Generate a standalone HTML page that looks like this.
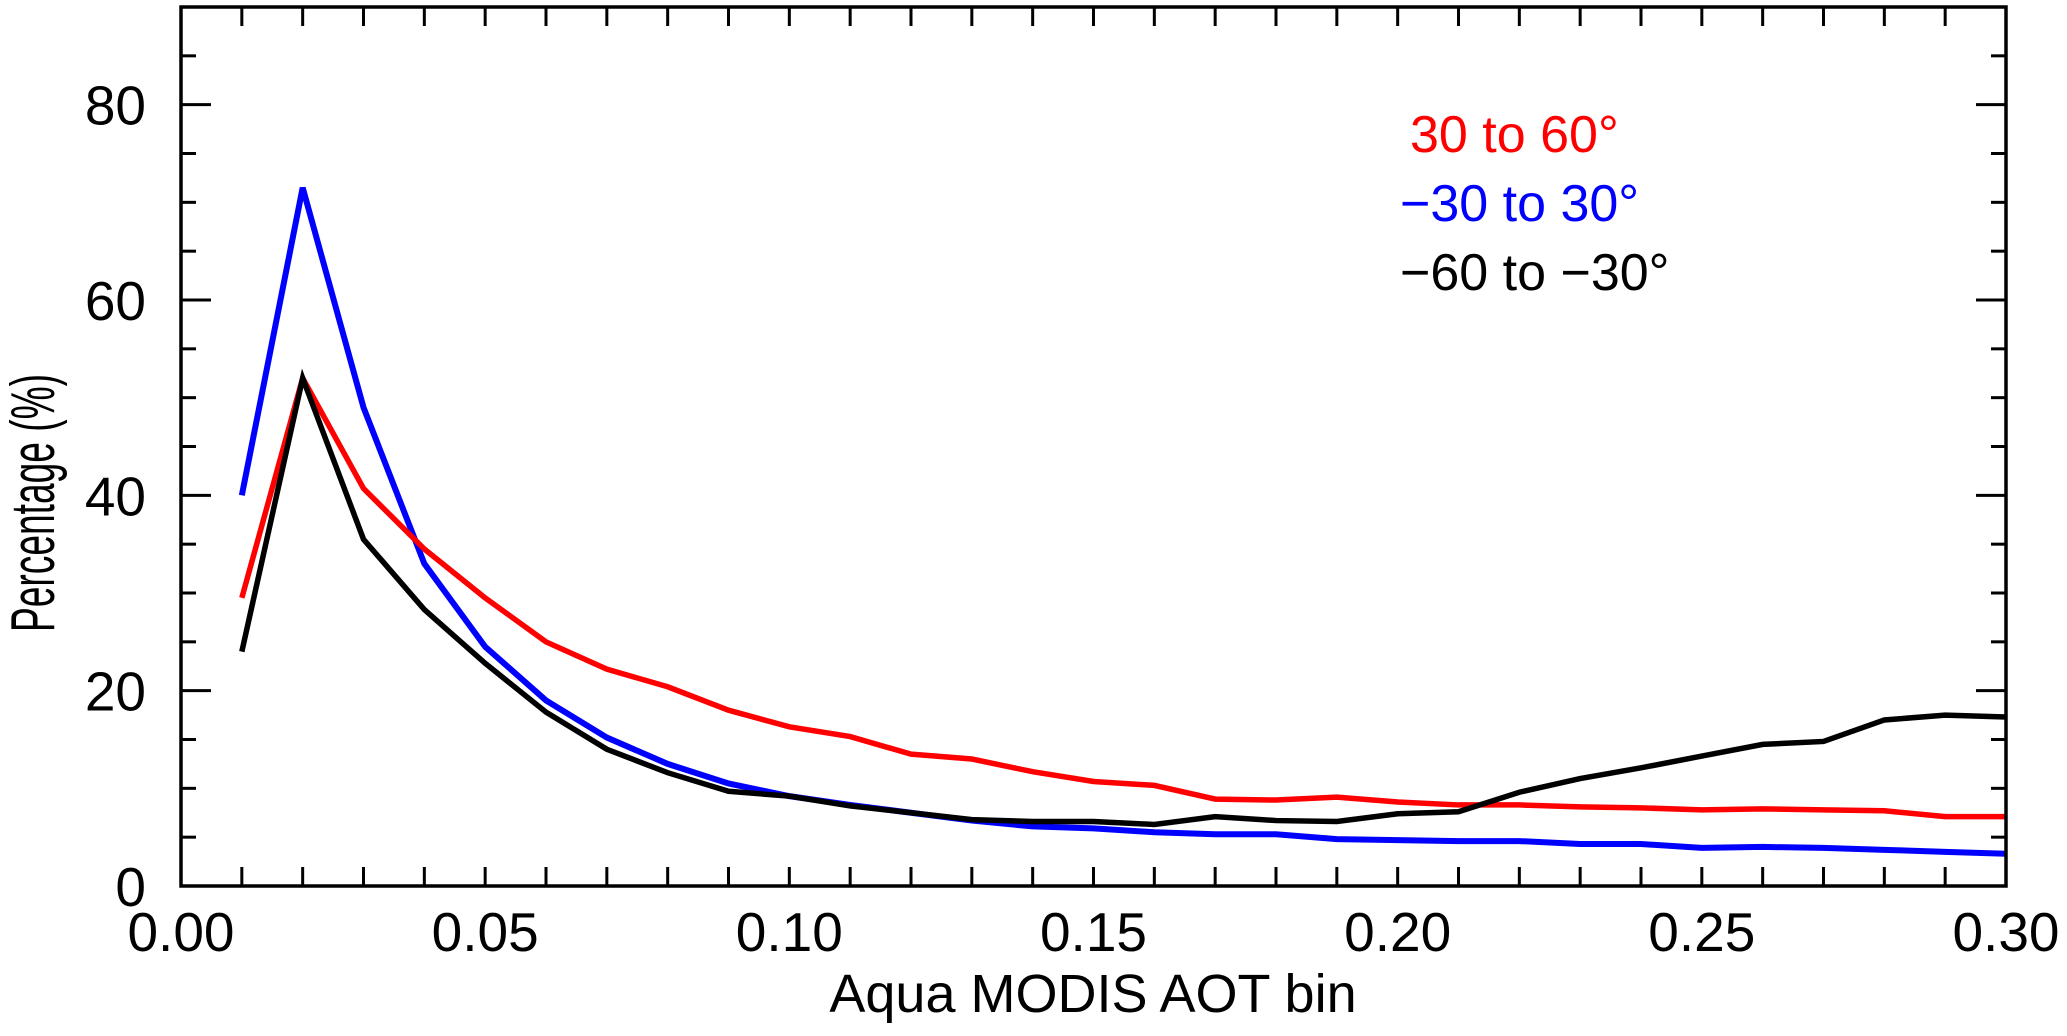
<!DOCTYPE html>
<html><head><meta charset="utf-8">
<style>
html,body{margin:0;padding:0;background:#fff;}
svg{display:block;font-family:"Liberation Sans",Arial,sans-serif;}
</style></head>
<body>
<svg id="chart" width="2067" height="1036" viewBox="0 0 2067 1036" xmlns="http://www.w3.org/2000/svg">
<g id="ticks"></g>
<g id="series"></g>
<rect x="181" y="7" width="1825" height="879" fill="none" stroke="#000" stroke-width="3.5"/>
<g id="labels" font-size="55" fill="#000"></g>
<text x="1093" y="1012" font-size="54" text-anchor="middle">Aqua MODIS AOT bin</text>
<text x="0" y="0" font-size="62" text-anchor="middle" textLength="258" lengthAdjust="spacingAndGlyphs" transform="translate(54,503) rotate(-90)">Percentage (%)</text>
<text x="1410" y="152" font-size="52" fill="#ff0000">30 to 60°</text>
<text x="1400" y="221" font-size="52" fill="#0000ff">−30 to 30°</text>
<text x="1400" y="290" font-size="52" fill="#000">−60 to −30°</text>
</svg>
<script>
const xBins = [0.01,0.02,0.03,0.04,0.05,0.06,0.07,0.08,0.09,0.10,0.11,0.12,0.13,0.14,0.15,0.16,0.17,0.18,0.19,0.20,0.21,0.22,0.23,0.24,0.25,0.26,0.27,0.28,0.29,0.30];
const redValues = [29.5,52,40.7,34.5,29.5,25,22.2,20.4,18,16.3,15.3,13.5,13,11.7,10.7,10.3,8.9,8.8,9.1,8.6,8.3,8.3,8.1,8.0,7.8,7.9,7.8,7.7,7.1,7.1];
const blueValues = [40,71.5,49,33,24.5,19,15.2,12.5,10.5,9.2,8.3,7.5,6.7,6.1,5.9,5.5,5.3,5.3,4.8,4.7,4.6,4.6,4.3,4.3,3.9,4.0,3.9,3.7,3.5,3.3];
const blackValues = [24,52,35.5,28.3,22.8,17.8,14,11.6,9.7,9.2,8.2,7.5,6.8,6.6,6.6,6.3,7.1,6.7,6.6,7.4,7.6,9.6,11,12.1,13.3,14.5,14.8,17,17.5,17.3];
const xTickLabels = ["0.00","0.05","0.10","0.15","0.20","0.25","0.30"];
const yTickLabels = ["0","20","40","60","80"];

const L=181,R=2006,T=7,B=886,XMAX=0.30,YMAX=90;
const xs=v=>L+(v/XMAX)*(R-L);
const ys=v=>B-(v/YMAX)*(B-T);
const NS="http://www.w3.org/2000/svg";
const ticks=document.getElementById('ticks');
const labels=document.getElementById('labels');
const series=document.getElementById('series');
function ln(x1,y1,x2,y2){const l=document.createElementNS(NS,'line');
l.setAttribute('x1',x1);l.setAttribute('y1',y1);l.setAttribute('x2',x2);l.setAttribute('y2',y2);
l.setAttribute('stroke','#000');l.setAttribute('stroke-width','3');


ticks.appendChild(l);}
for(let i=1;i<30;i++){const x=xs(i*0.01);ln(x,B,x,B-19);ln(x,T,x,T+19);}
for(let v=5;v<YMAX;v+=5){const y=ys(v);const len=(v%20===0)?30:15;ln(L,y,L+len,y);ln(R,y,R-len,y);}
xTickLabels.forEach(s=>{const t=document.createElementNS(NS,'text');
t.setAttribute('x',xs(parseFloat(s)));t.setAttribute('y',951);t.setAttribute('text-anchor','middle');t.textContent=s;


labels.appendChild(t);});
yTickLabels.forEach(s=>{const t=document.createElementNS(NS,'text');
t.setAttribute('x',146);t.setAttribute('y',ys(parseFloat(s))+20);t.setAttribute('text-anchor','end');t.textContent=s;


labels.appendChild(t);});
function drawLine(vals,color,w,name){const p=document.createElementNS(NS,'polyline');
p.setAttribute('points',vals.map((v,i)=>xs(xBins[i])+','+ys(v)).join(' '));
p.setAttribute('fill','none');p.setAttribute('stroke',color);p.setAttribute('stroke-width',w);p.setAttribute('stroke-linejoin','miter');


series.appendChild(p);}
drawLine(blueValues,'#0000ff',6,'line-minus30-to-30');
drawLine(redValues,'#ff0000',5.5,'line-30-to-60');
drawLine(blackValues,'#000000',5.5,'line-minus60-to-minus30');
</script>
</body></html>
